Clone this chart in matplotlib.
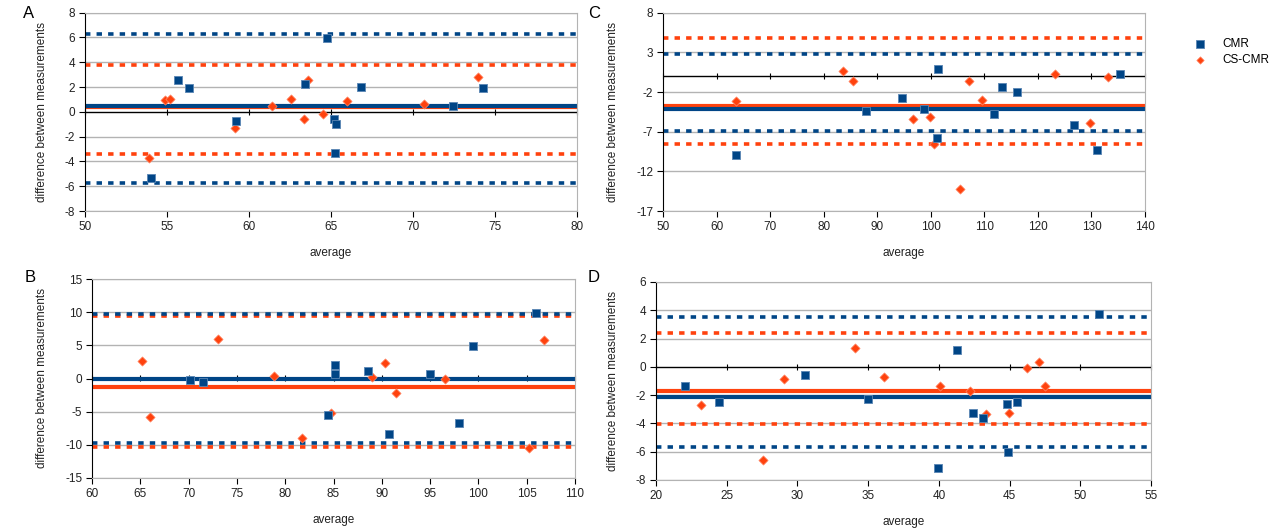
import numpy as np
import matplotlib.pyplot as plt

plt.rcParams['font.family'] = ['Liberation Sans', 'DejaVu Sans']
plt.rcParams['axes.unicode_minus'] = False

blue = '#004586'
orange = '#ff420e'
grid_gray = '#b3b3b3'

# ---- panel A ----
a_cmr_x = [54.0, 55.66, 56.34, 59.23, 63.44, 64.77, 65.16, 65.3, 65.23, 66.85, 72.42, 74.25]
a_cmr_y = [-5.3, 2.6, 1.93, -0.75, 2.28, 5.92, -0.59, -0.99, -3.3, 2.04, 0.5, 1.96]
a_cs_x = [53.9, 54.9, 55.17, 59.16, 61.4, 62.55, 63.35, 63.58, 64.54, 66.0, 70.7, 73.98]
a_cs_y = [-3.75, 0.96, 1.07, -1.31, 0.51, 1.07, -0.59, 2.55, -0.19, 0.88, 0.67, 2.81]
a_cmr_loa = [6.3, 0.48, -5.75]   # upper, mean, lower
a_cs_loa = [3.8, 0.4, -3.38]

# ---- panel B ----
b_cmr_x = [70.14, 71.5, 84.45, 85.12, 85.2, 88.59, 90.77, 94.95, 98.03, 99.43, 106.0]
b_cmr_y = [-0.2, -0.55, -5.57, 2.06, 0.65, 1.15, -8.33, 0.7, -6.67, 4.92, 9.83]
b_cs_x = [65.15, 65.97, 73.03, 78.84, 81.72, 84.69, 88.94, 90.38, 91.47, 96.58, 105.2, 106.84]
b_cs_y = [2.66, -5.77, 6.02, 0.4, -8.98, -5.22, 0.3, 2.31, -2.21, 0.0, -10.54, 5.87]
b_cmr_loa = [9.73, -0.05, -9.73]
b_cs_loa = [9.43, -1.25, -10.39]

# ---- panel C ----
c_cmr_x = [63.56, 87.97, 94.71, 98.82, 101.37, 101.2, 111.73, 113.37, 116.08, 126.68, 131.12, 135.4]
c_cmr_y = [-9.89, -4.38, -2.78, -4.08, 0.93, -7.79, -4.71, -1.43, -1.94, -6.19, -9.3, 0.29]
c_cs_x = [63.56, 83.53, 85.51, 96.6, 99.8, 100.6, 105.48, 107.12, 109.5, 123.23, 129.73, 133.1]
c_cs_y = [-3.11, 0.67, -0.59, -5.39, -5.18, -8.59, -14.27, -0.59, -2.95, 0.21, -5.93, -0.13]
c_cmr_loa = [2.82, -4.12, -6.94]
c_cs_loa = [4.76, -3.79, -8.54]

# ---- panel D ----
d_cmr_x = [22.03, 24.43, 30.51, 35.0, 39.96, 41.27, 42.4, 43.1, 44.83, 44.86, 45.55, 51.35]
d_cmr_y = [-1.34, -2.52, -0.61, -2.28, -7.13, 1.2, -3.25, -3.65, -2.61, -6.0, -2.45, 3.76]
d_cs_x = [23.21, 27.55, 29.08, 34.07, 36.1, 40.09, 42.21, 43.33, 44.99, 46.26, 47.07, 47.51]
d_cs_y = [-2.68, -6.61, -0.87, 1.34, -0.73, -1.34, -1.69, -3.36, -3.25, -0.09, 0.31, -1.34]
d_cmr_loa = [3.51, -2.16, -5.67]
d_cs_loa = [2.4, -1.69, -4.05]

# letter, axes box (px), letter pos (px), x range, y ticks, data...
panels = [
    ('A', [85, 12.7, 577, 211], (29, 14), (50, 80, 5), [-8, -6, -4, -2, 0, 2, 4, 6, 8],
     a_cmr_x, a_cmr_y, a_cs_x, a_cs_y, a_cmr_loa, a_cs_loa),
    ('C', [663, 12.7, 1145, 211], (594, 14), (50, 140, 10), [-17, -12, -7, -2, 3, 8],
     c_cmr_x, c_cmr_y, c_cs_x, c_cs_y, c_cmr_loa, c_cs_loa),
    ('B', [92, 279, 575, 478], (30, 278), (60, 110, 5), [-15, -10, -5, 0, 5, 10, 15],
     b_cmr_x, b_cmr_y, b_cs_x, b_cs_y, b_cmr_loa, b_cs_loa),
    ('D', [656, 282, 1151, 480], (594, 278), (20, 55, 5), [-8, -6, -4, -2, 0, 2, 4, 6],
     d_cmr_x, d_cmr_y, d_cs_x, d_cs_y, d_cmr_loa, d_cs_loa),
]

W, H = 1280, 529
fig = plt.figure(figsize=(W / 100, H / 100), dpi=100)

dotted = (0, (1.5, 1.7))

for letter, box, lpos, xr, yt, cx, cy, sx, sy, cl, sl in panels:
    x0, y0, x1, y1 = box
    ax = fig.add_axes([x0 / W, 1 - y1 / H, (x1 - x0) / W, (y1 - y0) / H])
    ylo, yhi = yt[0], yt[-1]
    ax.set_xlim(xr[0], xr[1])
    ax.set_ylim(ylo, yhi)
    ax.set_xticks(np.arange(xr[0], xr[1] + 0.1, xr[2]))
    ax.set_yticks(yt)
    for v in yt:
        if v != 0:
            ax.axhline(v, color=grid_gray, lw=1, zorder=0)
    ax.axhline(0, color='black', lw=1, zorder=1)

    # limits of agreement and mean lines
    for loa, col in [(sl, orange), (cl, blue)]:
        ax.axhline(loa[0], color=col, lw=2.6, ls=dotted, zorder=2)
        ax.axhline(loa[2], color=col, lw=2.6, ls=dotted, zorder=2)
        ax.axhline(loa[1], color=col, lw=3, zorder=2)

    ax.scatter(sx, sy, marker='D', s=22, color=orange, edgecolors='#ff8a6a',
               linewidths=0.5, zorder=4, label='CS-CMR')
    ax.scatter(cx, cy, marker='s', s=40, color=blue, edgecolors='#5a86b4',
               linewidths=0.6, zorder=5, label='CMR')

    for s in ['top', 'right', 'bottom']:
        ax.spines[s].set_color(grid_gray)
    ax.spines['left'].set_color('black')
    ax.tick_params(axis='both', labelsize=8.5, length=4, pad=3,
                   color='black', labelcolor='#222222')

    # tick marks along the zero line
    sec = ax.secondary_xaxis((0 - ylo) / (yhi - ylo))
    sec.set_xticks(ax.get_xticks())
    sec.tick_params(direction='inout', length=5, labeltop=False,
                    labelbottom=False, color='black')
    for sp in sec.spines.values():
        sp.set_visible(False)

    ax.set_xlabel('average', fontsize=8.5, labelpad=10, color='#222222')
    ax.set_ylabel('difference between measurements', fontsize=8.5,
                  labelpad=12, color='#222222')

    fig.text(lpos[0] / W, 1 - lpos[1] / H, letter, fontsize=12,
             ha='center', va='center')

    if letter == 'C':
        h, l = ax.get_legend_handles_labels()
        fig.legend([h[1], h[0]], [l[1], l[0]], loc='center left',
                   bbox_to_anchor=(1178 / W, 1 - 52 / H), frameon=False,
                   fontsize=8.5, handletextpad=0.9, labelspacing=0.3,
                   scatterpoints=1, markerscale=0.8)

fig.savefig('out.png', dpi=100)
